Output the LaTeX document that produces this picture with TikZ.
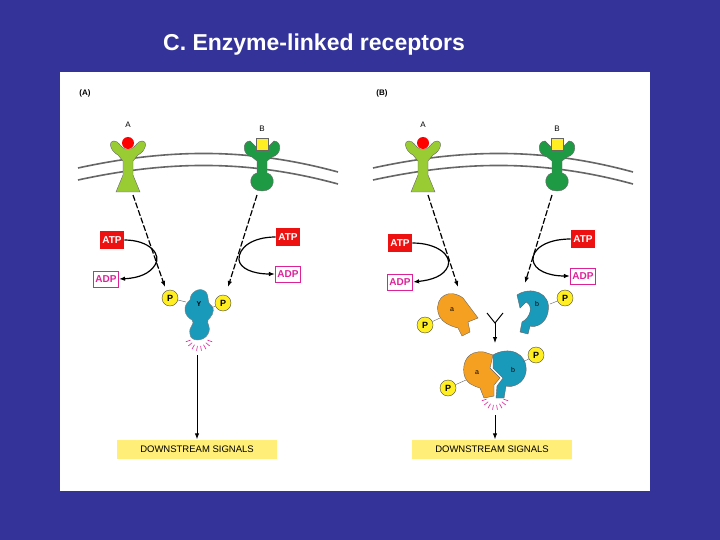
\documentclass[tikz,border=0pt]{standalone}
\usepackage{fontspec}
\setmainfont{Liberation Sans}
\usetikzlibrary{arrows.meta}
\definecolor{bg}{HTML}{333399}
\definecolor{lg}{HTML}{99CC33}
\definecolor{dg}{HTML}{1E9A44}
\definecolor{cy}{HTML}{1A9ABB}
\definecolor{org}{HTML}{F5A020}
\definecolor{atpred}{HTML}{EE1111}
\definecolor{pink}{HTML}{DD2299}
\definecolor{pyel}{HTML}{FFEE22}
\definecolor{dsy}{HTML}{FFEE77}
\begin{document}
\begin{tikzpicture}[x=1pt,y=-1pt,
 atp/.style={fill=atpred,text=white,font=\bfseries\fontsize{10}{10}\selectfont,inner sep=2.5pt,minimum height=18pt},
 adp/.style={draw=pink,fill=white,text=pink,font=\bfseries\fontsize{10}{10}\selectfont,inner sep=2pt,line width=1pt,minimum height=16pt},
 pp/.style={circle,draw=black!70,fill=pyel,font=\bfseries\fontsize{9}{9}\selectfont,inner sep=0pt,minimum size=16pt},
 ds/.style={fill=dsy,font=\fontsize{9.5}{9.5}\selectfont,minimum width=160pt,minimum height=19pt},
 lab/.style={font=\fontsize{8}{8}\selectfont},
 dasharr/.style={-{Latex[length=6pt]},line width=1.2pt,dash pattern=on 6pt off 2pt},
 arr/.style={-{Latex[length=6pt]},line width=1.2pt},
 mem/.style={line width=1.6pt,black!60}]
\fill[bg] (0,0) rectangle (720,540);
\fill[white] (60,72) rectangle (650,491);
\node[text=white,font=\bfseries\fontsize{23}{23}\selectfont] (title) at (314,45) {C. Enzyme-linked receptors};
\node[font=\bfseries\fontsize{8}{8}\selectfont] (la) at (85,93) {(A)};
\node[font=\bfseries\fontsize{8}{8}\selectfont] (lb) at (382,93) {(B)};
\foreach \ox/\pn in {0/1,295/2}{
 \begin{scope}[xshift=\ox]
 \draw[mem] (78,168) .. controls (170,148) and (250,148) .. (338,172);
 \draw[mem] (78,180) .. controls (170,160) and (250,160) .. (338,184);
 \begin{scope}[shift={(128,165)}]
  \fill[lg,draw=black!60] (-12,27) -- (-5,10) -- (-5,-4) -- (-10,-10) .. controls (-18,-14) and (-20,-24) .. (-14,-24) .. controls (-9,-24) and (-8,-18) .. (-3,-16) -- (3,-16) .. controls (8,-18) and (9,-24) .. (14,-24) .. controls (20,-24) and (18,-14) .. (10,-10) -- (5,-4) -- (5,10) -- (12,27) -- cycle;
  \fill[red] (0,-22) circle (6);
 \end{scope}
 \node[lab] (ra\pn) at (128,125) {A};
 \begin{scope}[shift={(262,165)}]
  \fill[dg,draw=black!60] (-5,8) .. controls (-14,10) and (-14,26) .. (0,26) .. controls (14,26) and (14,10) .. (5,8) -- (5,-4) -- (10,-8) .. controls (20,-10) and (20,-24) .. (12,-24) -- (6,-18) -- (-6,-18) -- (-12,-24) .. controls (-20,-24) and (-20,-10) .. (-10,-8) -- (-5,-4) -- cycle;
  \fill[pyel,draw=black!60] (-6,-27) rectangle (6,-15);
 \end{scope}
 \node[lab] (rb\pn) at (262,129) {B};
 \coordinate (sa\pn) at (133,195);
 \coordinate (sb\pn) at (257,195);
 \end{scope}}
% Panel A
\coordinate (ea1) at (165,287);
\coordinate (eb1) at (228,287);
\draw[dasharr] (sa1) -- (ea1);
\draw[dasharr] (sb1) -- (eb1);
\node[atp] (atpl1) at (112,240) {ATP};
\node[adp] (adpl1) at (106,279) {ADP};
\node[atp] (atpr1) at (288,237) {ATP};
\node[adp] (adpr1) at (288,274) {ADP};
\draw[arr] (atpl1.east) .. controls (150,240) and (162,255) .. (155,265) .. controls (150,273) and (140,278) .. (adpl1.east);
\draw[arr] (atpr1.west) .. controls (252,237) and (238,248) .. (239,260) .. controls (240,268) and (252,274) .. (adpr1.west);
\fill[cy,draw=black!50] (190,300) .. controls (190,292) and (200,286) .. (206,292) .. controls (210,298) and (206,302) .. (212,306) .. controls (216,312) and (210,318) .. (208,320) .. controls (206,324) and (212,326) .. (208,334) .. controls (204,342) and (190,342) .. (190,334) .. controls (188,326) and (196,324) .. (192,320) .. controls (184,316) and (182,306) .. (190,300) -- cycle;
\node[font=\bfseries\fontsize{7}{7}\selectfont] (yl) at (199,304) {Y};
\node[pp] (p1) at (170,298) {P};
\node[pp] (p2) at (223,303) {P};
\draw[black!60] (p1) -- (186,302);
\draw[black!60] (p2) -- (211,308);
\foreach \a in {20,40,...,160}{\draw[pink,line width=0.6pt] (199,337) ++(\a:9) -- ++(\a:5);}
\node[ds] (dsa) at (197,449) {DOWNSTREAM SIGNALS};
\coordinate (da) at (197,355);
\draw[arr,line width=0.9pt] (da) -- (dsa.north);
% Panel B
\coordinate (ea2) at (458,287);
\coordinate (eb2) at (525,283);
\draw[dasharr] (sa2) -- (ea2);
\draw[dasharr] (sb2) -- (eb2);
\node[atp] (atpl2) at (400,243) {ATP};
\node[adp] (adpl2) at (400,282) {ADP};
\node[atp] (atpr2) at (583,239) {ATP};
\node[adp] (adpr2) at (583,276) {ADP};
\draw[arr] (atpl2.east) .. controls (438,243) and (452,256) .. (448,266) .. controls (444,276) and (432,280) .. (adpl2.east);
\draw[arr] (atpr2.west) .. controls (545,239) and (532,250) .. (533,260) .. controls (534,270) and (548,276) .. (adpr2.west);
\fill[org,draw=black!60] (478,318) -- (463,298) .. controls (450,288) and (435,296) .. (438,312) .. controls (440,322) and (450,326) .. (458,328) -- (462,336) -- (470,332) -- (468,322) -- cycle;
\node[font=\fontsize{7}{7}\selectfont] (al) at (452,310) {a};
\node[pp] (p3) at (425,325) {P};
\draw[black!60] (p3) -- (440,318);
\fill[cy,draw=black!60] (517,295) .. controls (530,286) and (552,292) .. (548,312) .. controls (546,324) and (535,328) .. (530,326) -- (528,334) -- (520,332) -- (522,322) .. controls (530,318) and (534,306) .. (526,302) -- (520,308) -- cycle;
\node[font=\fontsize{7}{7}\selectfont] (bl) at (537,304) {b};
\node[pp] (p4) at (565,298) {P};
\draw[black!60] (p4) -- (550,304);
\draw[line width=1pt] (487,313) -- (495,323) -- (503,313);
\coordinate (ys) at (495,323);
\coordinate (ye) at (495,343);
\draw[arr,line width=0.9pt] (ys) -- (ye);
\fill[org,draw=black!60] (493,355) -- (484,352) .. controls (468,350) and (462,362) .. (464,374) .. controls (466,384) and (474,386) .. (480,388) -- (484,398) -- (494,396) -- (494,385) -- (500,378) -- (490,368) -- cycle;
\fill[cy,draw=black!60] (493,355) .. controls (508,346) and (528,352) .. (526,372) .. controls (524,384) and (512,388) .. (506,386) -- (504,398) -- (496,398) -- (497,386) -- (503,378) -- (493,368) -- cycle;
\node[font=\fontsize{7}{7}\selectfont] (al2) at (477,373) {a};
\node[font=\fontsize{7}{7}\selectfont] (bl2) at (513,370) {b};
\node[pp] (p5) at (448,388) {P};
\node[pp] (p6) at (536,355) {P};
\draw[black!60] (p5) -- (466,380);
\draw[black!60] (p6) -- (523,362);
\foreach \a in {200,220,...,340}{\draw[pink,line width=0.6pt] (495,396) ++(-\a:9) -- ++(-\a:5);}
\node[ds] (dsb) at (492,449) {DOWNSTREAM SIGNALS};
\coordinate (db) at (495,415);
\draw[arr,line width=0.9pt] (db) -- (dsb.north -| db);
\end{tikzpicture}
\end{document}
